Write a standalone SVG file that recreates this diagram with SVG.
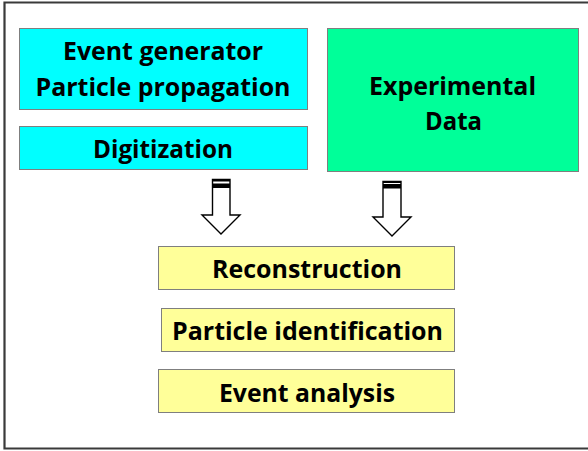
<svg xmlns="http://www.w3.org/2000/svg" width="588" height="451" viewBox="0 0 588 451">
<style>
.box{stroke:#7f7f7f;stroke-width:1}
.cyan{fill:#00ffff}
.green{fill:#00ff99}
.yellow{fill:#ffff99}
.t{font-family:"Open Sans","Liberation Sans",sans-serif;font-weight:700;font-size:25px;fill:#000;text-anchor:middle}
.arrow{fill:#fff;stroke:#000;stroke-width:1.4;stroke-linejoin:miter}
</style>
<rect width="588" height="451" fill="#fff"/>
<path d="M588 2.5H4.5V448.5H588" fill="none" stroke="#3a3a3a" stroke-width="2.2"/>
<g id="event-generator">
<rect class="box cyan" x="19.5" y="28.5" width="288" height="81"/>
<text class="t" x="163" y="60" textLength="200" lengthAdjust="spacingAndGlyphs">Event generator</text>
<text class="t" x="163" y="96" textLength="255" lengthAdjust="spacingAndGlyphs">Particle propagation</text>
</g>
<g id="digitization">
<rect class="box cyan" x="19.5" y="126.5" width="288" height="43"/>
<text class="t" x="163" y="158" textLength="140" lengthAdjust="spacingAndGlyphs">Digitization</text>
</g>
<g id="experimental-data">
<rect class="box green" x="327.5" y="28.5" width="251" height="143"/>
<text class="t" x="452.5" y="95" textLength="167" lengthAdjust="spacingAndGlyphs">Experimental</text>
<text class="t" x="453.5" y="130" textLength="57" lengthAdjust="spacingAndGlyphs">Data</text>
</g>
<g id="reconstruction">
<rect class="box yellow" x="158.5" y="246.5" width="296" height="43"/>
<text class="t" x="307" y="278" textLength="190" lengthAdjust="spacingAndGlyphs">Reconstruction</text>
</g>
<g id="particle-identification">
<rect class="box yellow" x="161.5" y="308.5" width="293" height="43"/>
<text class="t" x="307.5" y="340" textLength="271" lengthAdjust="spacingAndGlyphs">Particle identification</text>
</g>
<g id="event-analysis">
<rect class="box yellow" x="158.5" y="369.5" width="296" height="43"/>
<text class="t" x="307" y="402" textLength="176" lengthAdjust="spacingAndGlyphs">Event analysis</text>
</g>
<g id="connectors">
<path class="arrow" d="M212.5 179.5H230V215H240L221 234L202 215H212.5Z"/>
<rect x="212.5" y="179" width="17.5" height="2.5" fill="#000"/>
<rect x="212.5" y="183.5" width="17.5" height="4.5" fill="#000"/>
<path class="arrow" d="M383 181.5H401V217H411L392 236L373 217H383Z"/>
<rect x="383" y="181" width="18" height="2" fill="#000"/>
<rect x="383" y="184" width="18" height="4.5" fill="#000"/>
</g>
</svg>
